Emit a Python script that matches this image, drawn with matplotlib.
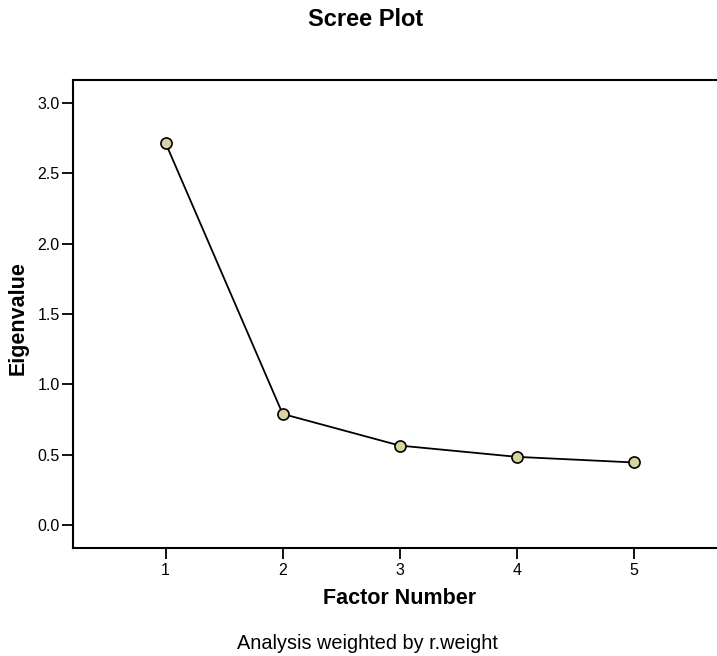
import matplotlib
matplotlib.use("Agg")
import matplotlib.pyplot as plt

plt.rcParams['font.family'] = ['Liberation Sans', 'DejaVu Sans']

# scree plot values
factors = [1, 2, 3, 4, 5]
eigenvalues = [2.715, 0.79, 0.565, 0.485, 0.445]
yticks = [0.0, 0.5, 1.0, 1.5, 2.0, 2.5, 3.0]

fig = plt.figure(figsize=(7.17, 6.56), dpi=100)
ax = fig.add_axes([0.1025, 0.1646, 0.8975, 0.7134])

ax.plot(factors, eigenvalues, color='black', lw=1.3, marker='o', ms=8,
        mfc='#d8d3a0', mec='black', mew=1.2, zorder=3)

ax.set_xlim(0.213, 5.71)
ax.set_ylim(-0.163, 3.163)
ax.set_xticks(factors)
ax.set_yticks(yticks)
ax.set_yticklabels(['%.1f' % v for v in yticks])

for s in ['left', 'top', 'bottom']:
    ax.spines[s].set_linewidth(1.5)
ax.spines['right'].set_visible(False)
ax.tick_params(direction='out', length=8, width=1.3, labelsize=11.5)
ax.tick_params(axis='y', pad=2)
ax.tick_params(axis='x', pad=3)

ax.set_xlabel('Factor Number', fontsize=15.5, fontweight='bold')
ax.set_ylabel('Eigenvalue', fontsize=15.5, fontweight='bold')
ax.xaxis.set_label_coords(0.507, -0.085)
ax.yaxis.set_label_coords(-0.069, 0.4915)

# chart is cropped on the right, so title/footer sit right of the image centre
fig.text(366 / 717, 0.961, 'Scree Plot', ha='center', va='baseline',
         fontsize=17, fontweight='bold')
fig.text(367 / 717, 0.011, 'Analysis weighted by r.weight', ha='center',
         va='baseline', fontsize=14.3)

fig.savefig('out.png', dpi=100)
